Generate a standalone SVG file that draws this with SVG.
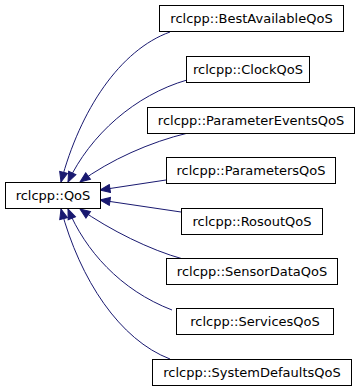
<svg xmlns="http://www.w3.org/2000/svg" width="360" height="392" viewBox="0 0 360 392">
<style>
.n rect{fill:#fff;stroke:#000;stroke-width:1}
.n text{font-family:"DejaVu Sans",sans-serif;font-size:13px;text-anchor:middle;fill:#000}
.e path{fill:none;stroke:#191970;stroke-width:1;marker-end:url(#ah)}
</style>
<defs>
<marker id="ah" markerUnits="userSpaceOnUse" viewBox="0 0 12 10" refX="11" refY="5" markerWidth="12" markerHeight="10" orient="auto">
<path d="M1,1 L11,5 L1,9 z" fill="#191970" stroke="#191970" stroke-width="1"/>
</marker>
</defs>
<g id="edges" class="e">
<path d="M170,32 C120,50 80,110 61,182"/>
<path d="M187,80 C135,95 90,135 68,182"/>
<path d="M188,133 C150,142 110,160 80,182"/>
<path d="M166,180 L100,190"/>
<path d="M181,212 L100,200"/>
<path d="M183,259 C150,250 110,230 80,209"/>
<path d="M172,310 C120,290 85,250 68,209"/>
<path d="M170,359 C120,340 80,280 61,209"/>
</g>
<g id="QoS" class="n"><rect x="5.5" y="182.5" width="95" height="26"/><text x="53" y="200">rclcpp::QoS</text></g>
<g id="BestAvailableQoS" class="n"><rect x="159.5" y="5.5" width="184" height="26"/><text x="251.5" y="23">rclcpp::BestAvailableQoS</text></g>
<g id="ClockQoS" class="n"><rect x="186.5" y="56.5" width="123" height="26"/><text x="248" y="74">rclcpp::ClockQoS</text></g>
<g id="ParameterEventsQoS" class="n"><rect x="147.5" y="107.5" width="207" height="26"/><text x="251" y="125">rclcpp::ParameterEventsQoS</text></g>
<g id="ParametersQoS" class="n"><rect x="166.5" y="157.5" width="169" height="26"/><text x="251" y="175">rclcpp::ParametersQoS</text></g>
<g id="RosoutQoS" class="n"><rect x="181.5" y="208.5" width="141" height="26"/><text x="252" y="226">rclcpp::RosoutQoS</text></g>
<g id="SensorDataQoS" class="n"><rect x="166.5" y="258.5" width="171" height="26"/><text x="252" y="276">rclcpp::SensorDataQoS</text></g>
<g id="ServicesQoS" class="n"><rect x="176.5" y="308.5" width="157" height="26"/><text x="255" y="326">rclcpp::ServicesQoS</text></g>
<g id="SystemDefaultsQoS" class="n"><rect x="152.5" y="359.5" width="199" height="26"/><text x="252" y="377">rclcpp::SystemDefaultsQoS</text></g>
</svg>
